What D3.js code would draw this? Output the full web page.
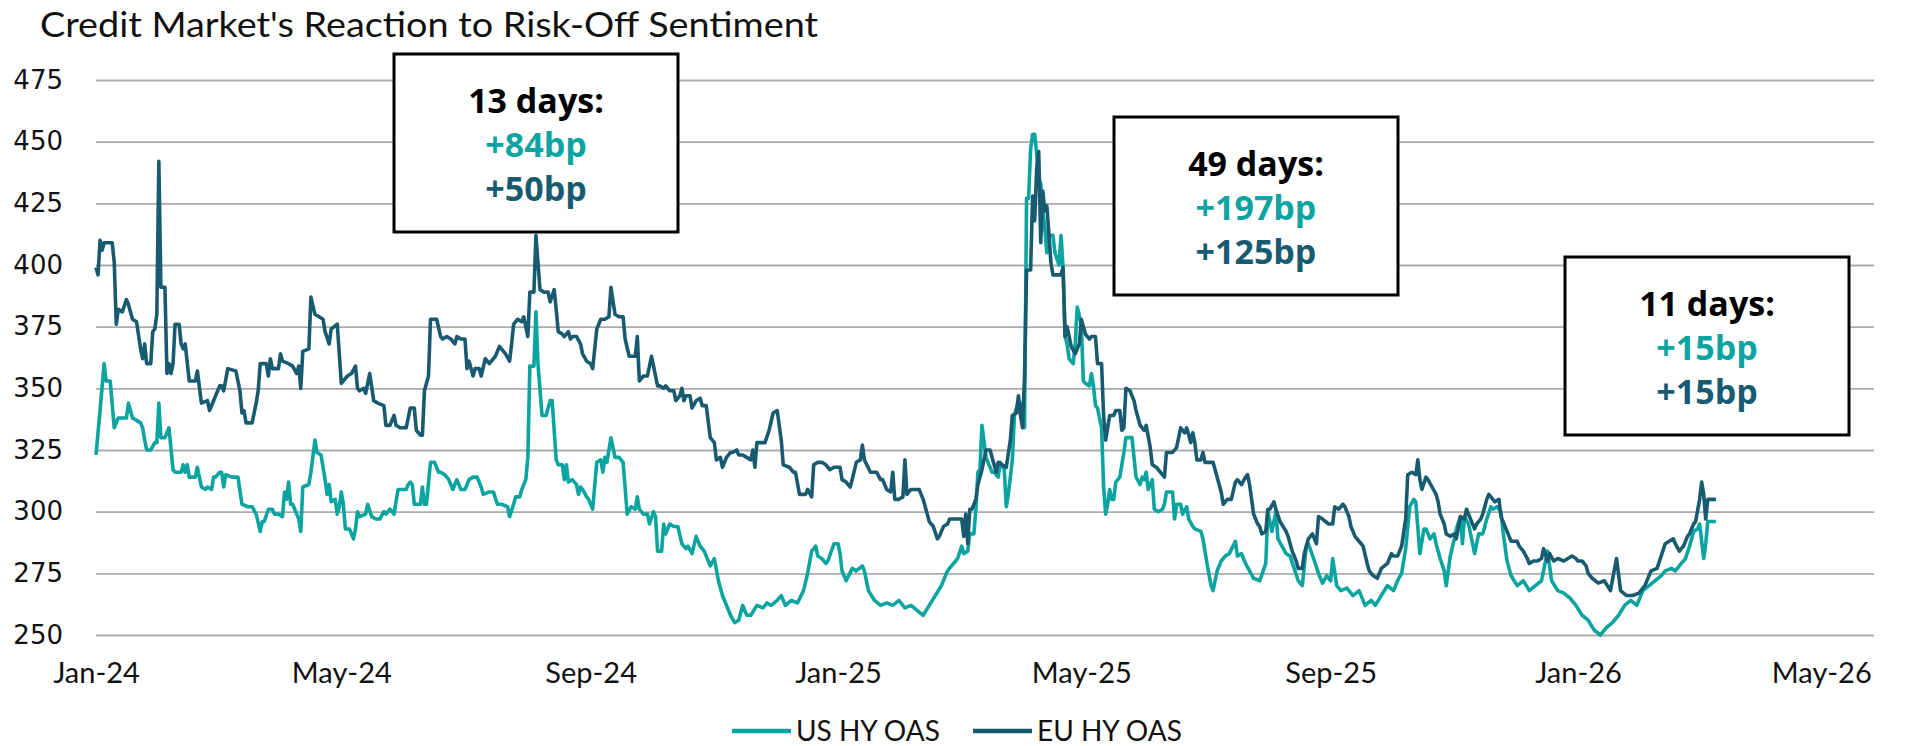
<!DOCTYPE html>
<html lang="en">
<head>
<meta charset="UTF-8"/>
<title>Credit Market's Reaction to Risk-Off Sentiment</title>
<script src="https://d3js.org/d3.v7.min.js"></script>
<style>
  body { margin: 0; background: #fff; }
  svg { display: block; }
</style>
</head>
<body>
<script>

// spreads in bp, x values are calendar days since 1 Jan 2024
var usDay = [0,2,4,5,7,9,11,13,15,16,18,20,22,23,24,25,27,29,30,31,32,34,36,38,39,42,43,44,45,46,49,50,52,54,55,57,58,59,61,62,63,64,67,70,72,75,77,79,81,82,83,85,87,88,90,92,93,94,95,96,97,99,100,101,102,105,106,108,109,111,113,114,115,116,118,119,120,121,122,123,125,127,128,129,130,133,134,136,138,140,142,143,145,147,149,152,153,154,155,156,157,160,161,162,163,165,167,169,170,172,174,176,178,180,182,184,186,188,190,191,194,196,198,200,203,204,
  206,207,209,210,212,213,214,216,217,218,220,222,224,225,227,228,230,231,232,233,235,237,238,239,240,242,243,245,247,249,250,251,252,254,255,256,258,260,262,264,266,267,268,270,272,273,275,276,277,279,280,281,283,285,287,289,291,292,294,296,298,300,301,303,305,
  307,309,311,313,315,317,319,321,323,326,329,331,333,336,338,340,343,346,349,351,353,355,356,358,360,361,364,366,367,368,370,373,375,378,379,381,384,387,390,393,396,399,402,405,408,411,414,417,
  420,422,424,425,427,428,430,431,433,434,435,436,437,439,440,442,443,445,446,448,449,450,452,453,455,457,458,459,460,461,462,463,464,465,466,467,468,469,470,472,473,475,476,477,478,479,480,482,483,484,486,487,488,490,491,492,493,494,496,497,498,499,500,501,502,503,505,507,508,511,512,513,515,516,517,518,519,521,522,524,526,527,528,531,532,533,535,536,538,539,541,542,545,546,548,550,551,553,555,557,559,562,563,565,567,569,571,574,577,578,580,582,583,585,587,589,591,593,595,597,598,601,603,
  605,607,609,610,612,614,617,620,623,626,629,631,634,637,640,642,644,646,648,650,651,653,655,656,658,660,661,663,665,666,668,670,671,673,674,675,677,679,680,682,684,686,688,689,691,693,694,696,698,701,704,707,710,713,716,718,721,724,727,730,733,736,739,742,745,748,751,754,757,760,763,766,769,772,774,777,779,782,784,786,788,790,791,793,794,795,799];
var usOas = [323,341,360,353,353,334,338,338,338,344,338,337,336,334,329,325,325,328,328,344,330,330,334,317,316,316,319,316,319,314,314,318,310,309,310,309,314,314,316,316,310,315,314,314,303,302,302,299,292,296,296,301,301,299,299,298,308,305,312,303,303,299,297,292,310,311,316,329,324,323,313,307,311,304,305,299,302,308,303,293,293,289,293,300,298,299,303,298,297,297,300,299,301,299,309,309,309,311,312,311,303,303,310,303,303,320,320,316,316,315,313,309,313,309,309,313,314,314,310,307,308,308,303,303,302,298,
  303,306,306,309,313,322,359,359,381,360,339,339,345,345,321,319,319,313,319,312,313,311,307,310,309,306,305,301,320,321,316,322,320,330,326,322,322,320,299,302,301,306,301,299,299,295,300,298,284,284,295,291,295,294,294,287,285,286,283,290,286,284,282,278,281,
  272,266,262,258,255,256,262,258,258,262,261,263,262,264,266,262,264,263,268,275,284,286,282,281,279,280,287,287,283,276,272,277,276,278,276,268,264,262,263,262,264,261,262,260,258,262,266,270,
  276,278,280,281,286,283,284,291,291,301,316,317,335,322,320,316,316,314,320,317,302,307,321,339,345,343,334,427,427,447,453,453,445,435,433,422,415,405,412,412,405,400,412,399,371,368,362,360,368,383,376,353,352,351,356,351,343,342,334,310,299,303,309,305,305,312,314,324,330,330,322,314,311,314,313,316,309,313,301,300,301,303,308,308,297,303,303,299,302,297,294,293,292,289,279,270,268,276,280,282,283,288,282,283,279,276,273,272,279,300,292,300,289,286,283,282,277,272,270,286,287,280,275,
  271,274,272,281,270,268,269,266,268,262,264,262,266,270,268,272,275,285,302,305,304,283,293,293,289,291,287,281,276,270,282,289,293,298,287,298,295,287,283,291,291,297,302,301,302,300,292,280,274,270,272,268,270,272,284,272,268,267,265,262,258,256,252,250,253,255,258,262,264,262,268,270,272,274,276,277,276,279,281,286,292,293,295,281,287,296,296];

var euDay = [0,1,2,3,4,8,9,10,11,13,15,16,18,20,22,23,24,25,27,28,29,30,31,32,34,35,36,37,38,39,41,42,43,44,46,49,50,52,55,56,59,61,62,63,65,69,71,72,73,74,77,79,80,81,84,85,86,87,90,91,92,95,97,99,100,101,102,105,106,108,110,112,113,115,116,119,121,124,126,128,129,130,132,133,135,137,139,142,143,145,147,148,150,153,155,157,158,160,161,162,164,165,168,170,171,173,175,177,178,180,182,183,184,186,187,189,190,192,194,197,199,202,204,
  205,206,208,210,211,212,213,214,216,217,219,221,223,224,226,227,228,230,231,233,234,235,237,239,240,242,244,245,247,249,251,253,254,256,258,260,261,263,266,267,268,270,272,274,275,277,278,280,281,283,285,286,288,289,290,291,293,294,296,298,299,301,303,305,306,308,309,311,313,314,316,317,319,321,323,324,325,326,328,330,332,334,336,338,339,342,344,345,347,350,351,353,354,356,358,360,362,364,367,368,370,372,373,375,377,378,379,382,383,385,387,388,390,392,393,394,396,398,399,400,402,404,
  406,407,408,411,412,413,415,416,418,420,421,423,425,427,428,429,430,431,432,434,435,437,439,441,443,444,445,447,449,451,452,454,455,456,457,458,459,461,462,463,464,465,466,467,468,469,470,471,472,476,477,478,479,481,483,485,486,488,490,491,493,494,496,497,498,500,502,503,505,506,507,508,510,512,513,515,517,518,520,521,523,525,527,528,530,531,533,535,537,538,540,541,542,543,545,546,547,549,551,552,554,555,556,558,560,562,563,565,567,568,569,571,573,574,575,577,578,579,581,582,584,587,588,590,592,593,595,596,598,600,602,603,605,608,
  610,611,613,615,616,618,619,621,623,625,627,628,630,632,634,637,639,640,642,644,646,647,649,651,652,653,654,656,657,659,661,662,663,665,666,668,670,671,673,675,676,678,680,681,683,684,686,687,689,690,692,693,695,697,698,701,702,704,706,707,709,711,713,714,716,717,719,721,724,726,728,730,731,733,735,736,738,741,744,747,750,752,755,758,761,764,767,770,772,774,776,778,779,781,783,785,786,788,789,791,792,793,794,795,799];
var euOas = [399,396,410,406,409,409,401,376,382,381,386,384,378,377,366,362,368,360,360,373,374,380,442,391,391,356,360,356,360,376,376,368,366,368,353,353,357,344,345,341,347,351,351,349,358,357,349,340,341,336,336,344,349,360,360,355,362,358,358,364,361,360,359,356,359,350,365,366,387,380,379,378,373,368,374,376,352,355,356,359,350,349,350,348,356,345,344,343,335,335,339,335,334,334,342,342,333,331,331,349,355,378,378,371,370,371,370,368,371,370,370,358,361,355,358,358,355,362,360,363,367,364,361,
  368,376,378,377,379,375,371,389,389,412,390,389,389,385,390,382,373,372,371,373,370,371,371,368,364,361,360,358,374,378,378,379,391,380,379,379,370,363,363,371,353,355,355,363,359,351,351,350,351,349,349,345,347,350,345,347,347,342,345,346,343,343,330,328,321,322,318,322,324,324,325,323,323,322,321,325,318,328,328,328,333,340,341,329,319,318,316,316,307,307,309,306,319,320,320,319,317,318,318,313,312,310,313,320,321,327,321,316,316,316,313,313,309,308,316,305,305,306,321,307,309,309,
  309,307,305,296,295,294,289,290,294,295,297,297,297,297,290,299,287,301,301,305,311,317,325,325,319,316,320,319,318,329,339,340,347,339,334,355,398,398,428,418,439,446,409,430,422,424,413,401,396,396,399,371,375,367,364,368,378,372,370,371,371,360,360,339,329,339,339,341,341,333,334,350,349,345,341,335,333,335,326,319,318,316,314,324,324,324,326,334,332,334,328,332,328,321,321,324,320,320,320,317,311,308,303,305,305,312,313,311,314,315,311,299,295,294,291,292,301,301,304,301,296,292,290,284,280,277,277,283,289,291,287,298,297,295,
  295,302,301,303,302,298,294,290,288,286,279,276,274,273,277,279,283,282,282,286,297,315,316,315,321,313,309,314,313,310,307,304,299,295,291,290,291,289,298,297,301,297,293,295,297,299,305,307,305,304,305,298,294,290,288,288,286,284,281,279,280,280,281,285,280,283,280,281,280,281,282,281,280,280,278,275,273,271,272,268,281,268,266,266,267,270,276,277,282,287,288,289,287,284,286,290,291,295,296,305,312,307,297,305,305];

var yTicks = [250, 275, 300, 325, 350, 375, 400, 425, 450, 475];
var xTickDates = ["2024-01-01", "2024-05-01", "2024-09-01", "2025-01-01", "2025-05-01", "2025-09-01", "2026-01-01", "2026-05-01"];
var seriesNames = ["US HY OAS", "EU HY OAS"];
var boxTitles = ["13 days:", "49 days:", "11 days:"];
var boxUs = ["+84bp", "+197bp", "+15bp"];
var boxEu = ["+50bp", "+125bp", "+15bp"];

var w = 1908;
var h = 746;
var plotLeft = 96, plotRight = 1874, plotTop = 80, plotBottom = 635;
var usColor = "#0ba4a1";
var euColor = "#185b70";

var start = new Date(2024, 0, 1);
var parseDate = d3.timeParse("%Y-%m-%d");

var svg = d3.select("body")
            .append("svg")
            .attr("width", w)
            .attr("height", h);

var xScale = d3.scaleTime()
    .domain([start, d3.timeDay.offset(start, 877)])
    .range([plotLeft, plotRight]);

var yScale = d3.scaleLinear()
    .domain([250, 475])
    .range([plotBottom, plotTop]);

// title
svg.append("text")
    .attr("x", 40)
    .attr("y", 37)
    .attr("font-family", "Lato, sans-serif")
    .attr("font-size", "35px")
    .attr("textLength", 778)
    .attr("lengthAdjust", "spacingAndGlyphs")
    .attr("fill", "#111")
    .text("Credit Market's Reaction to Risk-Off Sentiment");

// y axis with gridlines
var yAxis = svg.append("g")
    .attr("transform", "translate(" + plotLeft + ",0)")
    .call(d3.axisLeft(yScale).tickValues(yTicks).tickSize(-(plotRight - plotLeft)).tickPadding(33));
yAxis.select(".domain").remove();
yAxis.selectAll(".tick line")
    .attr("stroke", "#ababab")
    .attr("stroke-width", 1.8);
yAxis.selectAll(".tick text")
    .attr("font-family", "'DejaVu Sans', sans-serif")
    .attr("font-size", "26px")
    .attr("fill", "#111");

// x axis labels
var xAxis = svg.append("g")
    .attr("transform", "translate(0,683)")
    .call(d3.axisBottom(xScale)
        .tickValues(xTickDates.map(parseDate))
        .tickFormat(d3.timeFormat("%b-%y"))
        .tickSize(0));
xAxis.select(".domain").remove();
xAxis.selectAll(".tick text")
    .attr("y", 0)
    .attr("dy", null)
    .attr("font-family", "Lato, sans-serif")
    .attr("font-size", "29px")
    .attr("fill", "#111");

function toPoints(days, vals) {
    return days.map(function(d, i) { return [d3.timeDay.offset(start, d), vals[i]]; });
}

var line = d3.line()
    .x(function(d) { return xScale(d[0]); })
    .y(function(d) { return yScale(d[1]); });

svg.append("path")
    .datum(toPoints(usDay, usOas))
    .attr("d", line)
    .attr("fill", "none")
    .attr("stroke", usColor)
    .attr("stroke-width", 3.6)
    .attr("stroke-linejoin", "round");

svg.append("path")
    .datum(toPoints(euDay, euOas))
    .attr("d", line)
    .attr("fill", "none")
    .attr("stroke", euColor)
    .attr("stroke-width", 3.6)
    .attr("stroke-linejoin", "round");

// annotation boxes
var boxPos = [[394, 54], [1114, 117], [1565, 257]];
var boxW = 284, boxH = 178;

boxPos.forEach(function(p, i) {
    var g = svg.append("g").attr("transform", "translate(" + p[0] + "," + p[1] + ")");
    g.append("rect")
        .attr("width", boxW)
        .attr("height", boxH)
        .attr("fill", "#fff")
        .attr("stroke", "#000")
        .attr("stroke-width", 3);
    var lines = [[boxTitles[i], "#000", 59], [boxUs[i], usColor, 103], [boxEu[i], euColor, 147]];
    lines.forEach(function(l) {
        g.append("text")
            .attr("x", boxW / 2)
            .attr("y", l[2])
            .attr("text-anchor", "middle")
            .attr("font-family", "'Open Sans', sans-serif")
            .attr("font-weight", 700)
            .attr("font-size", "34px")
            .attr("fill", l[1])
            .text(l[0]);
    });
});

// legend
var legendX = [732, 973];
seriesNames.forEach(function(name, i) {
    svg.append("line")
        .attr("x1", legendX[i])
        .attr("x2", legendX[i] + 59)
        .attr("y1", 731)
        .attr("y2", 731)
        .attr("stroke", i === 0 ? usColor : euColor)
        .attr("stroke-width", 4.5);
    svg.append("text")
        .attr("x", legendX[i] + 64)
        .attr("y", 741)
        .attr("font-family", "Lato, sans-serif")
        .attr("font-size", "28px")
        .attr("fill", "#111")
        .text(name);
});

</script>
</body>
</html>
